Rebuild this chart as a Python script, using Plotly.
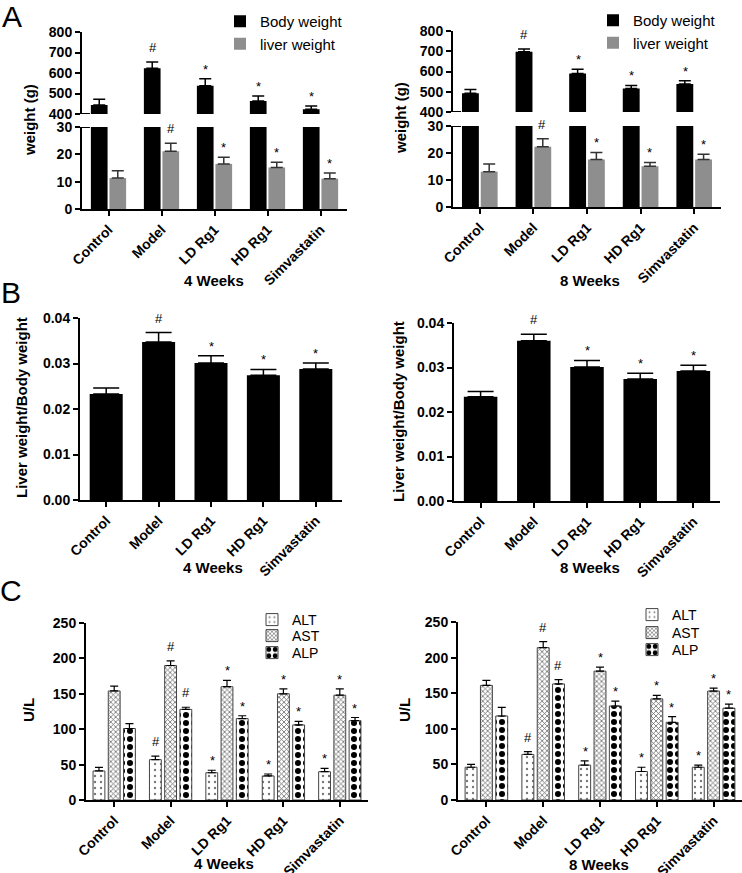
import plotly.graph_objects as go

W, H = 742, 873
FONT = "Arial, Liberation Sans, sans-serif"

groups = ["Control", "Model", "LD Rg1", "HD Rg1", "Simvastatin"]

# Panel A: body and liver weight (g), mean and upper error (SEM)
body_4w = [444, 623, 538, 463, 423]
body_4w_err = [28, 31, 34, 25, 16]
liver_4w = [11.3, 21.1, 16.5, 15.2, 11.1]
liver_4w_err = [2.7, 3.0, 2.4, 1.9, 2.1]
body_8w = [492, 697, 590, 516, 538]
body_8w_err = [19, 14, 21, 15, 16]
liver_8w = [13.1, 22.3, 17.6, 15.1, 17.6]
liver_8w_err = [2.8, 3.0, 2.6, 1.4, 1.9]

# Panel B: liver weight / body weight
ratio_4w = [0.0233, 0.0347, 0.0301, 0.0274, 0.0288]
ratio_4w_err = [0.0013, 0.0021, 0.0016, 0.0013, 0.0013]
ratio_8w = [0.0234, 0.0360, 0.0301, 0.0274, 0.0292]
ratio_8w_err = [0.0012, 0.0015, 0.0015, 0.0013, 0.0013]

# Panel C: serum enzymes (U/L)
alt_4w = [41, 57, 38.5, 34, 40]
alt_4w_err = [5, 5, 3.5, 2.7, 4.6]
ast_4w = [154, 190, 160, 150, 148]
ast_4w_err = [6.7, 6.4, 9, 7, 9]
alp_4w = [101, 128, 115, 106, 112]
alp_4w_err = [7, 3, 4, 5, 4.5]
alt_8w = [46, 64, 49, 40, 46]
alt_8w_err = [4, 4, 6, 6, 3]
ast_8w = [161, 214, 181, 142, 153]
ast_8w_err = [7, 8.5, 5.6, 5, 4]
alp_8w = [118, 163, 132, 109, 129]
alp_8w_err = [12, 6, 7, 8, 5.6]

sig = ["", "#", "*", "*", "*"]

GREY = "#8e8e8e"


def px_x(a, b):
    return [a / W, b / W]


def px_y(top, bottom):
    return [1 - bottom / H, 1 - top / H]


fig = go.Figure()
annotations = []
shapes = []


def err(vals, errs, color="black", width=6, thick=1.5):
    return dict(type="data", symmetric=False, array=errs, arrayminus=[0] * len(errs),
                color=color, thickness=thick, width=width, visible=True)


def add_marks(vals, errs, xa, ya, xshift=0, size=13):
    for g, v, e, s in zip(groups, vals, errs, sig):
        if s:
            annotations.append(dict(x=g, y=v + e, xref=xa, yref=ya, text=s, showarrow=False,
                                    xshift=xshift, yshift=5 if s == "#" else 0,
                                    yanchor="bottom",
                                    font=dict(family=FONT, size=size, color="black")))


axis_common = dict(showline=True, linecolor="black", linewidth=2, ticks="outside",
                   ticklen=5, tickwidth=2, tickcolor="black", showgrid=False, zeroline=False,
                   automargin=False,
                   tickfont=dict(family=FONT, size=14, color="black", weight="bold"))
xcat = dict(axis_common, type="category", categoryorder="array", categoryarray=groups,
            tickangle=-45, tickfont=dict(family=FONT, size=14, color="black", weight="bold"))


# ---------------- Panel A ----------------
def panel_a(body, body_e, liver, liver_e, xb, xt, yb, yt, legend):
    for (ax, ay, show) in [(xb, yb, False), (xt, yt, True)]:
        fig.add_trace(go.Bar(x=groups, y=body, name="Body weight", marker_color="black",
                             marker_line_width=0, error_y=err(body, body_e, width=6),
                             xaxis=ax, yaxis=ay, showlegend=show, legend=legend,
                             offsetgroup="b"))
        fig.add_trace(go.Bar(x=groups, y=liver, name="liver weight", marker_color=GREY,
                             marker_line_width=0, error_y=err(liver, liver_e, color="#333", width=6),
                             xaxis=ax, yaxis=ay, showlegend=show, legend=legend,
                             offsetgroup="l"))
    add_marks(body, body_e, xt, yt, xshift=-9)
    add_marks(liver, liver_e, xb, yb, xshift=9)


panel_a(body_4w, body_4w_err, liver_4w, liver_4w_err, "x", "x2", "y", "y2", "legend")
panel_a(body_8w, body_8w_err, liver_8w, liver_8w_err, "x3", "x4", "y3", "y4", "legend2")

lay = {}
lay["xaxis"] = dict(xcat, domain=px_x(82, 347), anchor="y")
lay["yaxis"] = dict(axis_common, domain=px_y(127, 209), range=[0, 30], tickvals=[0, 10, 20, 30], anchor="x")
lay["xaxis2"] = dict(xcat, domain=px_x(82, 347), anchor="y2", visible=False)
lay["yaxis2"] = dict(axis_common, domain=px_y(32, 114), range=[400, 800],
                     tickvals=[400, 500, 600, 700, 800], anchor="x2")
lay["xaxis3"] = dict(xcat, domain=px_x(453, 721), anchor="y3")
lay["yaxis3"] = dict(axis_common, domain=px_y(126, 207), range=[0, 30], tickvals=[0, 10, 20, 30], anchor="x3")
lay["xaxis4"] = dict(xcat, domain=px_x(453, 721), anchor="y4", visible=False)
lay["yaxis4"] = dict(axis_common, domain=px_y(31, 112), range=[400, 800],
                     tickvals=[400, 500, 600, 700, 800], anchor="x4")

# axis break marks
for ya, yv, xd in [("y2", 400, "x2"), ("y", 30, "x"), ("y4", 400, "x4"), ("y3", 30, "x3")]:
    shapes.append(dict(type="line", xref=f"{xd} domain", yref=ya, x0=-0.025, x1=0.03,
                       y0=yv, y1=yv, line=dict(color="black", width=2)))

# ---------------- Panel B ----------------
fig.add_trace(go.Bar(x=groups, y=ratio_4w, marker_color="black", marker_line_width=0,
                     error_y=err(ratio_4w, ratio_4w_err, width=13), xaxis="x5", yaxis="y5",
                     showlegend=False))
fig.add_trace(go.Bar(x=groups, y=ratio_8w, marker_color="black", marker_line_width=0,
                     error_y=err(ratio_8w, ratio_8w_err, width=13), xaxis="x6", yaxis="y6",
                     showlegend=False))
add_marks(ratio_4w, ratio_4w_err, "x5", "y5")
add_marks(ratio_8w, ratio_8w_err, "x6", "y6")
ytick_b = dict(tickvals=[0, 0.01, 0.02, 0.03, 0.04], tickformat=".2f", range=[0, 0.04])
lay["xaxis5"] = dict(xcat, domain=px_x(80, 342), anchor="y5")
lay["yaxis5"] = dict(axis_common, domain=px_y(318, 500), anchor="x5", **ytick_b)
lay["xaxis6"] = dict(xcat, domain=px_x(454, 720), anchor="y6")
lay["yaxis6"] = dict(axis_common, domain=px_y(323, 501), anchor="x6", **ytick_b)

# ---------------- Panel C ----------------
pat = {
    "ALT": dict(shape=".", size=6, solidity=0.12, fgcolor="#777", bgcolor="white", fillmode="replace"),
    "AST": dict(shape="x", size=3.5, solidity=0.4, fgcolor="#666", bgcolor="white", fillmode="replace"),
    "ALP": dict(shape=".", size=8, solidity=0.45, fgcolor="black", bgcolor="white", fillmode="replace"),
}
BW = 0.21
offs = {"ALT": -0.375, "AST": -0.105, "ALP": 0.165}
shift = {"ALT": -15, "AST": 0, "ALP": 15}


def panel_c(series, xa, ya, legends):
    for (name, vals, errs), lg in zip(series, legends):
        fig.add_trace(go.Bar(x=groups, y=vals, name=name, width=BW, offset=offs[name],
                             marker=dict(color="white", pattern=pat[name],
                                         line=dict(color="#444", width=1)),
                             error_y=err(vals, errs, width=4, thick=1.2),
                             xaxis=xa, yaxis=ya, legend=lg, showlegend=True))
        add_marks(vals, errs, xa, ya, xshift=shift[name])


panel_c([("ALT", alt_4w, alt_4w_err), ("AST", ast_4w, ast_4w_err), ("ALP", alp_4w, alp_4w_err)],
        "x7", "y7", ["legend3", "legend4", "legend5"])
panel_c([("ALT", alt_8w, alt_8w_err), ("AST", ast_8w, ast_8w_err), ("ALP", alp_8w, alp_8w_err)],
        "x8", "y8", ["legend6", "legend7", "legend8"])
ytick_c = dict(tickvals=[0, 50, 100, 150, 200, 250], range=[0, 250])
lay["xaxis7"] = dict(xcat, domain=px_x(86, 368), anchor="y7")
lay["yaxis7"] = dict(axis_common, domain=px_y(623, 800), anchor="x7", **ytick_c)
lay["xaxis8"] = dict(xcat, domain=px_x(458, 742), anchor="y8")
lay["yaxis8"] = dict(axis_common, domain=px_y(622, 800), anchor="x8", **ytick_c)


def ann_px(text, x, y, size, bold=True, angle=0):
    annotations.append(dict(text=text, x=x / W, y=1 - y / H, xref="paper", yref="paper",
                            showarrow=False, textangle=angle, xanchor="center", yanchor="middle",
                            font=dict(family=FONT, size=size, color="black",
                                      weight="bold" if bold else "normal")))


# panel letters
ann_px("A", 12, 16, 30, bold=False)
ann_px("B", 11, 293, 30, bold=False)
ann_px("C", 11, 590, 30, bold=False)
# y titles
ann_px("weight (g)", 30, 120, 15, angle=-90)
ann_px("weight (g)", 401, 118, 15, angle=-90)
ann_px("Liver weight/Body weight", 21, 408, 15, angle=-90)
ann_px("Liver weight/Body weight", 398, 412, 15, angle=-90)
ann_px("U/L", 28, 710, 15, angle=-90)
ann_px("U/L", 404, 710, 15, angle=-90)
# x titles
ann_px("4 Weeks", 214, 280, 15)
ann_px("8 Weeks", 590, 280, 15)
ann_px("4 Weeks", 213, 567, 15)
ann_px("8 Weeks", 590, 567, 15)
ann_px("4 Weeks", 224, 863, 15)
ann_px("8 Weeks", 599, 864, 15)


def leg(x, y, size):
    return dict(x=x / W, y=1 - y / H, xanchor="left", yanchor="top", bgcolor="rgba(0,0,0,0)",
                font=dict(family=FONT, size=size, color="black"), borderwidth=0,
                tracegroupgap=0, itemclick=False)


lay["legend"] = leg(220, 5, 15)
lay["legend2"] = leg(593, 4, 15)
for name, y in zip(["legend3", "legend4", "legend5"], [604, 620, 637]):
    lay[name] = leg(252, y, 14)
for name, y in zip(["legend6", "legend7", "legend8"], [599, 617, 634]):
    lay[name] = leg(632, y, 14)

fig.update_layout(**lay)
fig.update_layout(template="none", width=W, height=H, margin=dict(l=0, r=0, t=0, b=0, autoexpand=False),
                  paper_bgcolor="white", plot_bgcolor="white",
                  barmode="group", bargap=0.3, bargroupgap=0.1,
                  annotations=annotations, shapes=shapes,
                  font=dict(family=FONT, color="black"))

fig.write_html("out.html", config={"displayModeBar": False},
               post_script="document.body.style.margin='0';document.body.style.overflow='hidden';")
